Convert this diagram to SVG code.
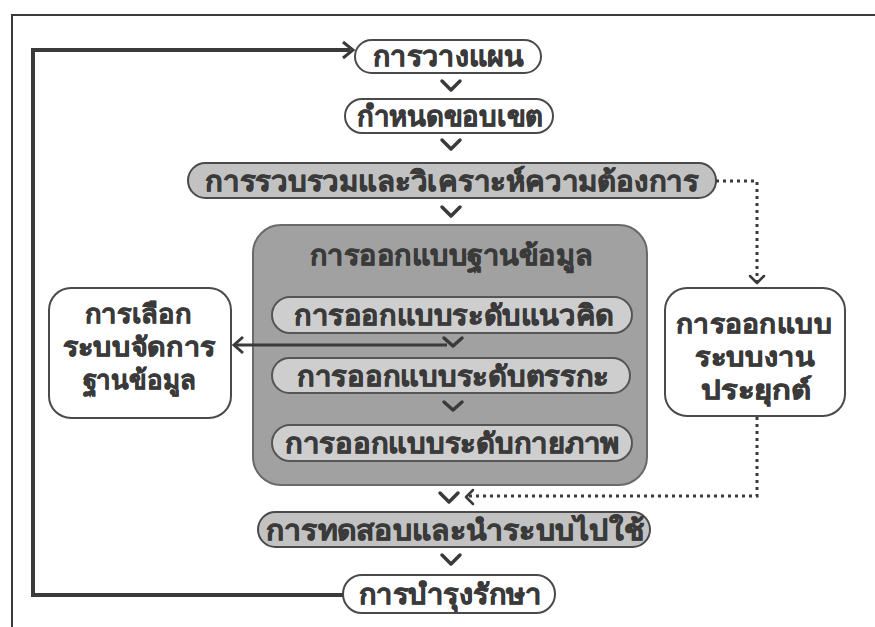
<svg xmlns="http://www.w3.org/2000/svg" width="875" height="627" viewBox="0 0 875 627">
<style>
text{font-family:"Noto Sans","DejaVu Sans",sans-serif;font-weight:bold;fill:#3a3a3a;stroke:#3a3a3a;stroke-width:0.6;text-anchor:middle;font-size:28px}
text.m{font-size:26px}
.w{fill:#ffffff;stroke:#4a4a4a;stroke-width:2}
.g{fill:#c2c2c2;stroke:#4a4a4a;stroke-width:2}
.big{fill:#a1a1a1;stroke:#6a6a6a;stroke-width:2}
.sub{fill:#cecece;stroke:#555;stroke-width:2}
.chev{fill:none;stroke:#3a3a3a;stroke-width:3.5;stroke-linecap:round;stroke-linejoin:round}
.solid{fill:none;stroke:#3a3a3a;stroke-width:4}
.thin{fill:none;stroke:#3a3a3a;stroke-width:3}
.dash{fill:none;stroke:#3a3a3a;stroke-width:3;stroke-dasharray:3 4}
.head{fill:none;stroke:#3a3a3a;stroke-width:2.5;stroke-linecap:round;stroke-linejoin:round}
</style>
<rect width="875" height="627" fill="#ffffff"/>
<path d="M12 627 V15 H875" fill="none" stroke="#3a3a3a" stroke-width="2"/>

<g id="n-planning">
  <rect class="w" x="355" y="40" width="186" height="33" rx="16.5"/>
  <text x="448" y="66" textLength="150" lengthAdjust="spacingAndGlyphs">การวางแผน</text>
</g>
<g id="n-scope">
  <rect class="w" x="345" y="99" width="208" height="34" rx="17"/>
  <text x="450" y="126" textLength="186" lengthAdjust="spacingAndGlyphs">กำหนดขอบเขต</text>
</g>
<g id="n-requirements">
  <rect class="g" x="188" y="163" width="528" height="35" rx="17.5"/>
  <text x="452" y="191" textLength="494" lengthAdjust="spacingAndGlyphs">การรวบรวมและวิเคราะห์ความต้องการ</text>
</g>
<g id="n-dbdesign">
  <rect class="big" x="253" y="225" width="394" height="260" rx="28"/>
  <text x="451" y="265" textLength="282" lengthAdjust="spacingAndGlyphs">การออกแบบฐานข้อมูล</text>
</g>
<g id="n-conceptual">
  <rect class="sub" x="272" y="297" width="360" height="36" rx="18"/>
  <text x="454" y="325" textLength="320" lengthAdjust="spacingAndGlyphs">การออกแบบระดับแนวคิด</text>
</g>
<g id="n-logical">
  <rect class="sub" x="272" y="358" width="358" height="35" rx="17.5"/>
  <text x="453" y="386" textLength="312" lengthAdjust="spacingAndGlyphs">การออกแบบระดับตรรกะ</text>
</g>
<g id="n-physical">
  <rect class="sub" x="272" y="425" width="360" height="36" rx="18"/>
  <text x="452" y="453" textLength="334" lengthAdjust="spacingAndGlyphs">การออกแบบระดับกายภาพ</text>
</g>
<g id="n-dbms">
  <rect class="w" x="49" y="288" width="182" height="130" rx="22"/>
  <text class="m" x="138" y="323" textLength="107" lengthAdjust="spacingAndGlyphs">การเลือก</text>
  <text class="m" x="139" y="356" textLength="153" lengthAdjust="spacingAndGlyphs">ระบบจัดการ</text>
  <text class="m" x="139" y="389" textLength="113" lengthAdjust="spacingAndGlyphs">ฐานข้อมูล</text>
</g>
<g id="n-app">
  <rect class="w" x="665" y="288" width="180" height="128" rx="22"/>
  <text class="m" x="754" y="333" textLength="156" lengthAdjust="spacingAndGlyphs">การออกแบบ</text>
  <text class="m" x="755" y="366" textLength="120" lengthAdjust="spacingAndGlyphs">ระบบงาน</text>
  <text class="m" x="756" y="399" textLength="111" lengthAdjust="spacingAndGlyphs">ประยุกต์</text>
</g>
<g id="n-testing">
  <rect class="g" x="258" y="512" width="392" height="35" rx="17.5"/>
  <text x="455" y="540" textLength="378" lengthAdjust="spacingAndGlyphs">การทดสอบและนำระบบไปใช้</text>
</g>
<g id="n-maintenance">
  <rect class="w" x="343" y="575" width="212" height="38" rx="19"/>
  <text x="450" y="604" textLength="183" lengthAdjust="spacingAndGlyphs">การบำรุงรักษา</text>
</g>

<g id="connectors">
  <path class="solid" d="M343 595 H33 V50 H350"/>
  <path class="thin" d="M343 42 L353 50 L343 58"/>
  <path class="chev" d="M442 81 L451 90 L460 81"/>
  <path class="chev" d="M442 140 L451 149 L460 140"/>
  <path class="chev" d="M442 207 L451 216 L460 207"/>
  <path class="chev" d="M444 338 L453 346 L462 338"/>
  <path class="chev" d="M444 402 L453 410 L462 402"/>
  <path class="chev" d="M440 493 L449 502 L458 493"/>
  <path class="chev" d="M442 555 L451 564 L460 555"/>
  <path class="thin" d="M447 345 H234"/>
  <path class="thin" d="M243 337 L234 345 L243 353"/>
  <path class="dash" d="M716 181 H757 V282"/>
  <path class="head" d="M750 276 L757 283 L764 276"/>
  <path class="dash" d="M757 417 V496 H467"/>
  <path class="head" d="M473 490 L466 497 L473 504"/>
</g>
</svg>
